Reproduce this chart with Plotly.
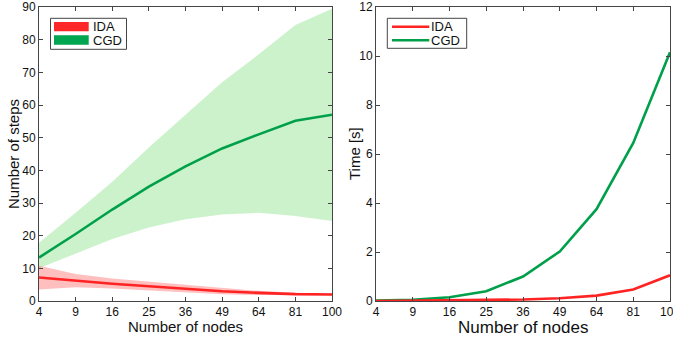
import plotly.graph_objects as go

nodes = [4, 9, 16, 25, 36, 49, 64, 81, 100]
pos = list(range(len(nodes)))

# Left: number of steps
cgd_steps_mean = [13.3, 20.5, 28.0, 35.0, 41.2, 46.7, 51.0, 55.2, 57.0]
cgd_steps_hi = [17.8, 27.0, 36.5, 47.0, 57.0, 67.0, 75.5, 84.5, 89.5]
cgd_steps_lo = [10.0, 14.5, 19.0, 22.5, 25.0, 26.5, 27.0, 26.0, 24.5]
ida_steps_mean = [7.2, 6.2, 5.3, 4.5, 3.7, 3.0, 2.5, 2.1, 2.0]
ida_steps_hi = [10.8, 8.3, 6.9, 5.9, 4.9, 3.9, 3.1, 2.5, 2.2]
ida_steps_lo = [3.5, 4.2, 3.8, 3.2, 2.6, 2.1, 1.8, 1.7, 1.8]

# Right: time [s]
cgd_time = [0.02, 0.05, 0.15, 0.40, 1.00, 2.02, 3.75, 6.45, 10.15]
ida_time = [0.0, 0.01, 0.02, 0.03, 0.06, 0.11, 0.22, 0.47, 1.05]

RED = "rgb(255,35,35)"
GREEN = "rgb(0,160,75)"
RED_FILL = "rgba(255,0,0,0.25)"
GREEN_FILL = "rgba(0,190,0,0.2)"
AX = "#444444"
FONT = "Liberation Sans, Arial, sans-serif"

fig = go.Figure()

# bands (left)
fig.add_trace(go.Scatter(x=pos, y=cgd_steps_lo, mode="lines", line=dict(width=0, color=GREEN_FILL),
                         showlegend=False, hoverinfo="skip", xaxis="x", yaxis="y"))
fig.add_trace(go.Scatter(x=pos, y=cgd_steps_hi, mode="lines", line=dict(width=0, color=GREEN_FILL),
                         fill="tonexty", fillcolor=GREEN_FILL, showlegend=False, hoverinfo="skip",
                         xaxis="x", yaxis="y"))
fig.add_trace(go.Scatter(x=pos, y=ida_steps_lo, mode="lines", line=dict(width=0, color=RED_FILL),
                         showlegend=False, hoverinfo="skip", xaxis="x", yaxis="y"))
fig.add_trace(go.Scatter(x=pos, y=ida_steps_hi, mode="lines", line=dict(width=0, color=RED_FILL),
                         fill="tonexty", fillcolor=RED_FILL, showlegend=False, hoverinfo="skip",
                         xaxis="x", yaxis="y"))
fig.add_trace(go.Scatter(x=pos, y=ida_steps_mean, mode="lines", line=dict(width=2.6, color=RED),
                         showlegend=False, xaxis="x", yaxis="y"))
fig.add_trace(go.Scatter(x=pos, y=cgd_steps_mean, mode="lines", line=dict(width=2.6, color=GREEN),
                         showlegend=False, xaxis="x", yaxis="y"))

# right
fig.add_trace(go.Scatter(x=pos, y=cgd_time, mode="lines", line=dict(width=2.6, color=GREEN),
                         showlegend=False, xaxis="x2", yaxis="y2"))
fig.add_trace(go.Scatter(x=pos, y=ida_time, mode="lines", line=dict(width=2.6, color=RED),
                         showlegend=False, xaxis="x2", yaxis="y2"))

W, H = 673, 337
def px(x):
    return x / W
def py(y):
    return 1 - y / H

axis_common = dict(showgrid=False, zeroline=False, showline=True, linecolor=AX, linewidth=1,
                   mirror="ticks", ticks="inside", ticklen=4, tickcolor=AX, automargin=False,
                   ticklabeloverflow="allow",
                   tickfont=dict(family=FONT, size=12, color="#111111"))

fig.update_layout(
    width=W, height=H, margin=dict(l=0, r=0, t=0, b=0, autoexpand=False),
    paper_bgcolor="white", plot_bgcolor="white", showlegend=False,
    xaxis=dict(domain=[px(39), px(332)], range=[0, 8], tickvals=pos, ticktext=[str(n) for n in nodes],
               anchor="y", **axis_common),
    yaxis=dict(domain=[py(301), py(7)], range=[0, 90], tickvals=list(range(0, 91, 10)),
               anchor="x", **axis_common),
    xaxis2=dict(domain=[px(376), px(670)], range=[0, 8], tickvals=pos, ticktext=[str(n) for n in nodes],
                anchor="y2", **axis_common),
    yaxis2=dict(domain=[py(301), py(7)], range=[0, 12], tickvals=list(range(0, 13, 2)),
                anchor="x2", **axis_common),
)

def A(text, x, y, size, angle=0, xanchor="center"):
    return dict(text=text, x=px(x), y=py(y), xref="paper", yref="paper", textangle=angle,
                xanchor=xanchor, yanchor="middle", showarrow=False,
                font=dict(family=FONT, size=size, color="#111111"))

ann = [
    A("Number of nodes", 185, 326, 15),
    A("Number of nodes", 523, 327, 17),
    A("Number of steps", 13, 154, 15, angle=-90),
    A("Time [s]", 354, 154, 15, angle=-90),
]

shapes = []
# left legend
shapes.append(dict(type="rect", xref="paper", yref="paper", x0=px(50.5), x1=px(126.5), y0=py(49.3), y1=py(18.3),
                   line=dict(color=AX, width=1), fillcolor="white"))
shapes.append(dict(type="rect", xref="paper", yref="paper", x0=px(54), x1=px(88.7), y0=py(31.3), y1=py(22),
                   line=dict(width=0), fillcolor="rgb(255,40,40)"))
shapes.append(dict(type="rect", xref="paper", yref="paper", x0=px(54), x1=px(88.7), y0=py(44.7), y1=py(35.3),
                   line=dict(width=0), fillcolor="rgb(0,165,80)"))
ann.append(A("IDA", 90.5, 27, 13, xanchor="left"))
ann.append(A("CGD", 90.5, 40.5, 13, xanchor="left"))
# right legend
shapes.append(dict(type="rect", xref="paper", yref="paper", x0=px(387.3), x1=px(466.7), y0=py(48.3), y1=py(18.3),
                   line=dict(color=AX, width=1), fillcolor="white"))
shapes.append(dict(type="line", xref="paper", yref="paper", x0=px(392), x1=px(429.3), y0=py(26.7), y1=py(26.7),
                   line=dict(color=RED, width=2.6)))
shapes.append(dict(type="line", xref="paper", yref="paper", x0=px(392), x1=px(429.3), y0=py(40.3), y1=py(40.3),
                   line=dict(color=GREEN, width=2.6)))
ann.append(A("IDA", 429.5, 27, 13, xanchor="left"))
ann.append(A("CGD", 429.5, 40.5, 13, xanchor="left"))

fig.update_layout(annotations=ann, shapes=shapes)
fig.write_html("out.html")
